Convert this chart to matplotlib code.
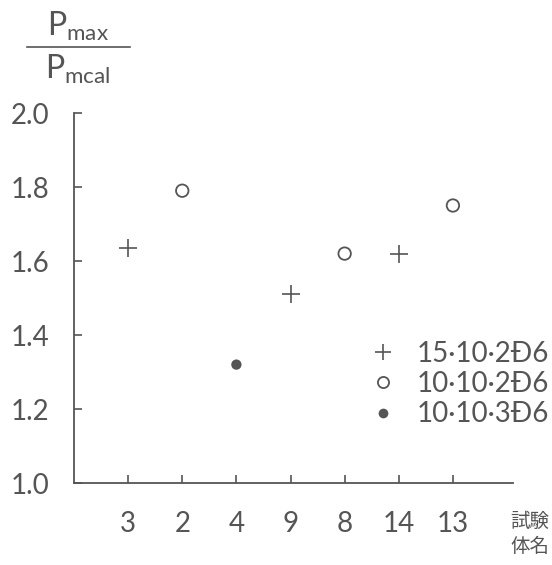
import matplotlib
matplotlib.use("Agg")
import matplotlib.pyplot as plt
from matplotlib.lines import Line2D

plt.rcParams['font.family'] = ['Lato', 'DejaVu Sans']

# ---- data ----
specimens = ["3", "2", "4", "9", "8", "14", "13"]
series_names = ["15·10·2Đ6", "10·10·2Đ6", "10·10·3Đ6"]
series_index = [0, 1, 2, 0, 1, 0, 1]          # which series each specimen belongs to
ratio = [1.635, 1.79, 1.32, 1.51, 1.62, 1.62, 1.75]
yticks = [1.0, 1.2, 1.4, 1.6, 1.8, 2.0]
ytick_labels = ["1.0", "1.2", "1.4", "1.6", "1.8", "2.0"]

ink = "#555555"
W, H = 552, 565
fig = plt.figure(figsize=(W / 100, H / 100), dpi=100)
left_px, right_px, bottom_px, top_px = 74, 513, 483, 113
ax = fig.add_axes([left_px / W, 1 - bottom_px / H, (right_px - left_px) / W, (bottom_px - top_px) / H])

styles = [
    dict(marker='+', s=150, c=ink, linewidths=1.2),
    dict(marker='o', s=80, facecolors='none', edgecolors=ink, linewidths=1.3),
    dict(marker='o', s=55, c='#555555', edgecolors='none'),
]
x = list(range(len(specimens)))
for k in range(3):
    xs = [x[i] for i in range(len(x)) if series_index[i] == k]
    ys = [ratio[i] for i in range(len(x)) if series_index[i] == k]
    ax.scatter(xs, ys, **styles[k], zorder=3)

ax.set_xlim(-1.0, 7.11)
ax.set_ylim(1.0, 2.0)
for s in ['top', 'right']:
    ax.spines[s].set_visible(False)
for s in ['left', 'bottom']:
    ax.spines[s].set_color(ink)
    ax.spines[s].set_linewidth(1.3)
ax.set_xticks(x)
ax.set_xticklabels(specimens)
ax.set_yticks(yticks)
ax.set_yticklabels(ytick_labels)
ax.tick_params(axis='both', direction='in', length=6, width=1.2, color=ink,
               labelcolor=ink, labelsize=20)
ax.tick_params(axis='y', pad=18)
ax.tick_params(axis='x', pad=20)

# legend
handles = [
    Line2D([], [], linestyle='none', marker='+', markersize=12, color=ink, markeredgewidth=1.2),
    Line2D([], [], linestyle='none', marker='o', markersize=8, markerfacecolor='none', markeredgecolor=ink, markeredgewidth=1.3),
    Line2D([], [], linestyle='none', marker='o', markersize=7, color='#555555', markeredgecolor='none'),
]
leg = fig.legend(handles, series_names, loc='upper left', bbox_to_anchor=(372 / W, 1 - 341 / H),
                 frameon=False, fontsize=20, handlelength=0.8, handletextpad=0.8,
                 labelspacing=0.15, borderaxespad=0, borderpad=0)
for t in leg.get_texts():
    t.set_color(ink)

# y-axis label as a fraction
fig.text(78 / W, 1 - 26 / H, r"$\mathregular{P_{max}}$", ha='center', va='center', fontsize=23, color=ink)
fig.text(78 / W, 1 - 69 / H, r"$\mathregular{P_{mcal}}$", ha='center', va='center', fontsize=23, color=ink)
fig.add_artist(Line2D([27 / W, 130 / W], [1 - 47 / H, 1 - 47 / H], color=ink, lw=1.2))

# x-axis label
fig.text(530 / W, 1 - 534 / H, "試験\n体名", ha='center', va='center', fontsize=14,
         color=ink, family=['Noto Sans CJK JP'], linespacing=1.2)

fig.savefig("out.png", dpi=100, facecolor='white')
